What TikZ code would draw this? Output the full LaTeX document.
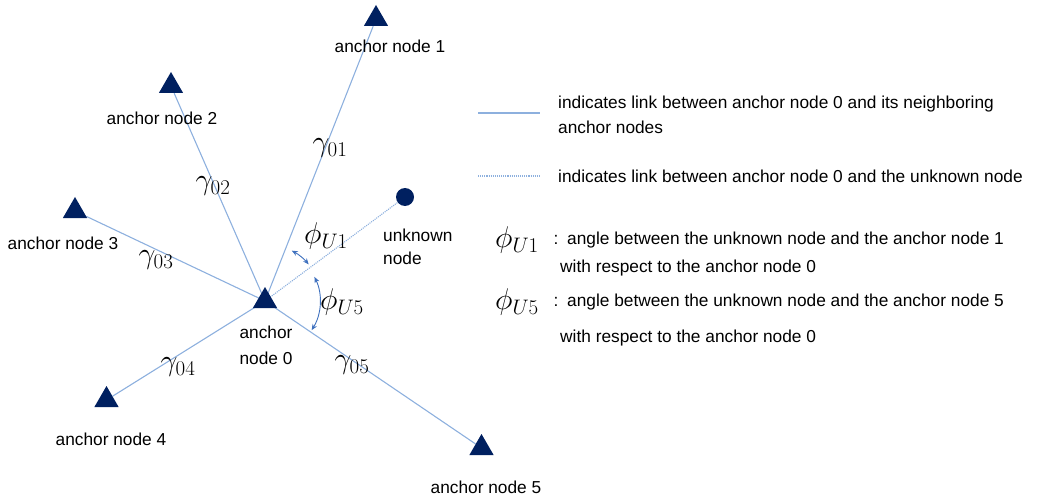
\RequirePackage{fix-cm}
\documentclass[tikz,border=0pt]{standalone}
\usepackage{fontspec}
\setmainfont{Liberation Sans}
\usetikzlibrary{shapes.geometric,arrows.meta,backgrounds,calc}
\definecolor{linkblue}{RGB}{141,176,222}
\definecolor{arcblue}{RGB}{62,112,190}
\definecolor{navy}{RGB}{0,32,96}
\tikzset{
  anchornode/.style={regular polygon, regular polygon sides=3, fill=navy, inner sep=0pt, minimum size=28pt},
  unknownnode/.style={circle, fill=navy, inner sep=0pt, minimum size=18pt},
  link/.style={draw=linkblue, line width=1.1pt},
  ulink/.style={draw=linkblue, line width=1.1pt, densely dotted},
  lbl/.style={font=\fontsize{17.3}{20}\selectfont, inner sep=0pt},
  sym/.style={font=\fontsize{30}{34}\selectfont, inner sep=0pt},
  anglearc/.style={draw=arcblue, line width=0.9pt, {Stealth[length=6pt,width=5pt]}-{Stealth[length=6pt,width=5pt]}},
}
\begin{document}
\begin{tikzpicture}[x=1pt,y=1pt]
\useasboundingbox (0,0) rectangle (1038,-497);

% anchor nodes and the unknown node
\node[anchornode] (a0) at (265,-301) {};
\node[anchornode] (a1) at (376,-19) {};
\node[anchornode] (a2) at (171,-86) {};
\node[anchornode] (a3) at (75,-211) {};
\node[anchornode] (a4) at (106.5,-400) {};
\node[anchornode] (a5) at (481.5,-448) {};
\node[unknownnode] (u) at (405,-197) {};

% links from anchor node 0
\begin{scope}[on background layer]
  \draw[link] (a0.center) -- (a1);
  \draw[link] (a0.center) -- (a2);
  \draw[link] (a0.center) -- (a3);
  \draw[link] (a0.center) -- (a4);
  \draw[link] (a0.center) -- (a5);
  \draw[ulink] (a0.center) -- (u);
\end{scope}

% node labels
\node[lbl] (t1) at (390,-46) {anchor node 1};
\node[lbl] (t2) at (162,-118) {anchor node 2};
\node[lbl] (t3) at (63,-243) {anchor node 3};
\node[lbl, align=center, font=\fontsize{17.3}{26}\selectfont] (t0) at (266,-345) {anchor\\node 0};
\node[lbl] (t4) at (111,-439) {anchor node 4};
\node[lbl] (t5) at (486,-487) {anchor node 5};
\node[lbl, align=left, anchor=west, font=\fontsize{17.3}{23}\selectfont] (tu) at (383,-246.5) {unknown\\node};

% distance labels
\node[sym] (g01) at (330,-148) {$\gamma_{01}$};
\node[sym] (g02) at (213,-186) {$\gamma_{02}$};
\node[sym] (g03) at (156,-260) {$\gamma_{03}$};
\node[sym] (g04) at (178,-367) {$\gamma_{04}$};
\node[sym] (g05) at (352,-365) {$\gamma_{05}$};

% angles at anchor node 0
\draw[anglearc] ($(a0.center)+(40:57)$) arc[start angle=40, end angle=62, radius=57];
\draw[anglearc] ($(a0.center)+(26:55)$) arc[start angle=26, end angle=-32, radius=55];
\node[sym] (pu1) at (326,-236) {$\phi_{U1}$};
\node[sym] (pu5) at (342,-302) {$\phi_{U5}$};

% legend
\coordinate (ls1) at (478,-113);
\coordinate (le1) at (540,-113);
\draw[link] (ls1) -- (le1);
\node[lbl, anchor=west] (lt1) at (558,-104) {indicates link between anchor node 0 and its neighboring};
\node[lbl, anchor=west] (lt1b) at (558,-127) {anchor nodes};
\coordinate (ls2) at (478,-176);
\coordinate (le2) at (540,-176);
\draw[ulink] (ls2) -- (le2);
\node[lbl, anchor=west] (lt2) at (558,-176) {indicates link between anchor node 0 and the unknown node};

\node[sym] (lp1) at (517,-240) {$\phi_{U1}$};
\node[lbl] (lc1) at (556,-240) {:};
\node[lbl, anchor=west] (ld1) at (567,-240) {angle between the unknown node and the anchor node 1};
\node[lbl, anchor=west] (ld1b) at (560,-268) {with respect to the anchor node 0};
\node[sym] (lp5) at (517,-302) {$\phi_{U5}$};
\node[lbl] (lc5) at (556,-302) {:};
\node[lbl, anchor=west] (ld5) at (567,-302) {angle between the unknown node and the anchor node 5};
\node[lbl, anchor=west] (ld5b) at (560,-338) {with respect to the anchor node 0};
\end{tikzpicture}
\end{document}
